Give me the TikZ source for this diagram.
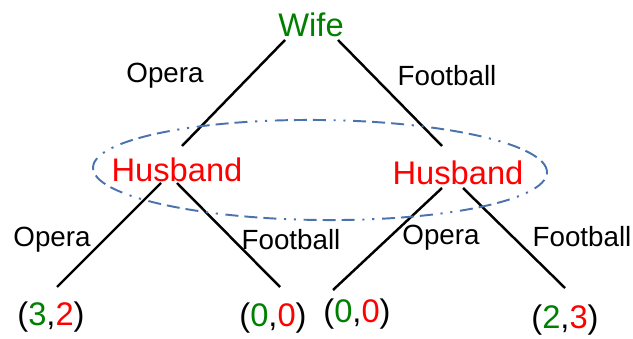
\documentclass[tikz,border=0pt]{standalone}
\usepackage{fontspec}
\setmainfont{Liberation Sans}
\usepackage{xcolor}
\definecolor{wifegreen}{RGB}{0,128,0}
\definecolor{infoblue}{RGB}{74,114,172}
\usetikzlibrary{calc}

\begin{document}
\begin{tikzpicture}[
        player/.style={inner sep=0pt, font=\fontsize{9.3}{11}\selectfont},
        move/.style={inner sep=0pt, font=\fontsize{7.9}{9}\selectfont},
        payoff/.style={inner sep=0pt, font=\fontsize{9.3}{11}\selectfont},
        branch/.style={line width=0.7pt},
        infoset/.style={line width=0.55pt, infoblue,
            dash pattern=on 3.7pt off 1.7pt on 3.7pt off 1.7pt on 3.7pt off 2.2pt on 0.6pt off 2.2pt on 0.6pt off 2.2pt}
    ]
        \useasboundingbox (0,0) rectangle (6.33,3.38);

        % Players
        \node[player, wifegreen] (wife) at (3.11,3.13) {Wife};
        \node[player, red] (hl) at (1.77,1.68) {Husband};
        \node[player, red] (hr) at (4.58,1.65) {Husband};

        % Payoffs (wife, husband)
        \node[payoff] (oo) at (0.51,0.21) {(\textcolor{wifegreen}{3},\textcolor{red}{2})};
        \node[payoff] (of) at (2.73,0.20) {(\textcolor{wifegreen}{0},\textcolor{red}{0})};
        \node[payoff] (fo) at (3.57,0.24) {(\textcolor{wifegreen}{0},\textcolor{red}{0})};
        \node[payoff] (ff) at (5.65,0.18) {(\textcolor{wifegreen}{2},\textcolor{red}{3})};

        % Branches
        \draw[branch] ([shift={(-0.26,-0.15)}]wife.center) -- ([shift={(0.05,0.24)}]hl.center);
        \draw[branch] ([shift={(0.27,-0.15)}]wife.center) -- ([shift={(-0.16,0.27)}]hr.center);
        \draw[branch] ([shift={(-0.16,-0.13)}]hl.center) -- ([shift={(0.06,0.30)}]oo.center);
        \draw[branch] ([shift={(0.00,-0.13)}]hl.center) -- ([shift={(0.07,0.31)}]of.center);
        \draw[branch] ([shift={(-0.16,-0.15)}]hr.center) -- ([shift={(-0.24,0.24)}]fo.center);
        \draw[branch] ([shift={(0.05,-0.15)}]hr.center) -- ([shift={(0.00,0.32)}]ff.center);

        % Move labels
        \node[move] (m1) at (1.65,2.62) {Opera};
        \node[move] (m2) at (4.47,2.62) {Football};
        \node[move] (m3) at (0.52,0.98) {Opera};
        \node[move] (m4) at (2.91,0.98) {Football};
        \node[move] (m5) at (4.41,1.00) {Opera};
        \node[move] (m6) at (5.82,1.01) {Football};

        % Information set
        \draw[infoset, rotate around={-0.6:(3.20,1.68)}] (3.20,1.68) ellipse [x radius=2.27, y radius=0.50];
    \end{tikzpicture}
\end{document}
